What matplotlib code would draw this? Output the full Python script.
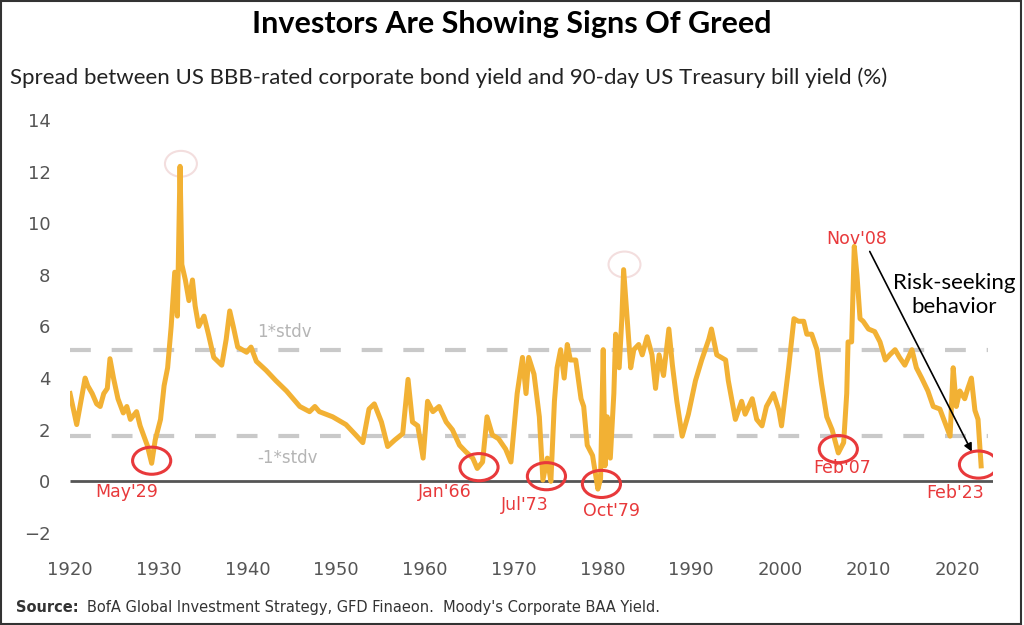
import matplotlib.pyplot as plt
from matplotlib.patches import Ellipse, Rectangle

# spread (%), roughly twice a year plus the turning points
years = [1920.0, 1920.75, 1921.7, 1922.0, 1922.5, 1923.0, 1923.4, 1923.8, 1924.2, 1924.5,
         1924.9, 1925.4, 1926.0, 1926.4, 1926.8, 1927.5, 1927.9, 1928.7, 1929.2, 1929.6,
         1930.2, 1930.6, 1931.0, 1931.4, 1931.8, 1932.1, 1932.4, 1932.6, 1933.0, 1933.4,
         1933.8, 1934.1, 1934.5, 1935.1, 1935.6, 1936.2, 1937.1, 1937.6, 1938.0, 1938.4,
         1938.9, 1939.9, 1940.4, 1941.0, 1942.1, 1943.2, 1944.4, 1945.9, 1947.0, 1947.6,
         1948.1, 1949.6, 1951.1, 1952.2, 1953.0, 1953.7, 1954.3, 1955.1, 1955.8, 1956.6,
         1957.5, 1958.1, 1958.6, 1959.2, 1959.8, 1960.3, 1960.9, 1961.6, 1962.4, 1963.1,
         1963.9, 1964.6, 1965.4, 1965.9, 1966.5, 1967.0, 1967.6, 1968.3, 1969.1, 1969.7,
         1970.4, 1971.0, 1971.4, 1971.7, 1972.3, 1972.9, 1973.3, 1973.8, 1974.2, 1974.6,
         1974.9, 1975.3, 1975.7, 1976.05, 1976.4, 1977.0, 1977.6, 1977.9, 1978.3, 1978.9,
         1979.5, 1979.8, 1980.1, 1980.3, 1980.55, 1980.9, 1981.3, 1981.5, 1981.9, 1982.2,
         1982.4, 1982.8, 1983.2, 1983.55, 1984.1, 1984.5, 1985.05, 1985.6, 1986.0, 1986.4,
         1986.9, 1987.5, 1987.9, 1988.4, 1989.0, 1989.7, 1990.5, 1991.2, 1992.0, 1992.3,
         1992.9, 1993.9, 1994.2, 1995.0, 1995.7, 1996.1, 1996.9, 1997.4, 1998.0, 1998.5,
         1999.3, 1999.9, 2000.2, 2001.0, 2001.6, 2002.1, 2002.7, 2003.05, 2003.6, 2004.2,
         2004.7, 2005.3, 2005.9, 2006.6, 2007.2, 2007.55, 2007.7, 2008.1, 2008.4, 2008.7,
         2009.05, 2009.4, 2010.0, 2010.7, 2011.3, 2011.9, 2012.4, 2013.0, 2013.5, 2014.1,
         2014.9, 2015.4, 2016.0, 2016.7, 2017.3, 2018.05, 2018.6, 2019.2, 2019.55, 2019.9,
         2020.3, 2020.85, 2021.2, 2021.6, 2022.0, 2022.35, 2022.7]
spread = [3.4, 2.2, 4.0, 3.7, 3.4, 3.0, 2.9, 3.4, 3.6, 4.75,
          4.0, 3.2, 2.65, 2.9, 2.4, 2.7, 2.15, 1.4, 0.7, 1.6,
          2.4, 3.7, 4.4, 6.0, 8.1, 6.4, 12.2, 8.4, 7.8, 7.0,
          7.8, 6.8, 6.0, 6.4, 5.7, 4.8, 4.5, 5.5, 6.6, 6.0,
          5.2, 5.0, 5.2, 4.65, 4.3, 3.9, 3.5, 2.9, 2.7, 2.9,
          2.7, 2.5, 2.2, 1.8, 1.5, 2.8, 3.0, 2.3, 1.35, 1.6,
          1.85, 3.95, 2.3, 2.15, 0.9, 3.1, 2.7, 2.9, 2.3, 2.0,
          1.4, 1.15, 0.9, 0.5, 0.75, 2.5, 1.8, 1.65, 1.25, 0.75,
          3.4, 4.8, 3.4, 4.8, 4.15, 2.5, 0.05, 0.9, 0.0, 3.1,
          4.4, 5.1, 4.0, 5.3, 4.7, 4.7, 3.2, 2.9, 1.4, 1.0,
          -0.3, 0.1, 5.1, 0.6, 2.5, 0.9, 3.4, 5.7, 4.4, 6.3,
          8.2, 6.3, 4.4, 5.1, 5.3, 4.9, 5.6, 4.9, 3.6, 4.9,
          4.1, 5.9, 4.5, 3.1, 1.75, 2.6, 3.9, 4.7, 5.5, 5.9,
          4.9, 4.7, 3.9, 2.4, 3.1, 2.6, 3.2, 2.4, 2.15, 2.9,
          3.4, 2.75, 2.15, 4.4, 6.3, 6.2, 6.2, 5.7, 5.7, 5.1,
          3.8, 2.5, 2.0, 1.1, 1.5, 3.4, 5.4, 5.4, 9.1, 8.0,
          6.3, 6.2, 5.9, 5.8, 5.4, 4.7, 4.9, 5.1, 4.8, 4.5,
          5.1, 4.4, 4.0, 3.5, 2.9, 2.8, 2.3, 1.75, 4.4, 2.9,
          3.5, 3.2, 3.6, 4.0, 2.75, 2.4, 0.6]

stdv_hi = 5.1
stdv_lo = 1.75

lows = ["May'29", "Jan'66", "Jul'73", "Oct'79", "Feb'07", "Feb'23"]
low_x = [1929.2, 1966.1, 1973.7, 1979.9, 2006.6, 2022.4]
low_y = [0.8, 0.55, 0.2, -0.1, 1.25, 0.65]
label_x = [1926.4, 1962.2, 1971.2, 1981.0, 2007.0, 2019.8]
label_y = [-0.4, -0.4, -0.9, -1.15, 0.5, -0.45]

red = "#e8393b"
gold = "#f2b134"
narrow = ["Liberation Sans Narrow", "DejaVu Sans"]

fig = plt.figure(figsize=(10.24, 6.25), dpi=100)
ax = fig.add_axes([0.0684, 0.1472, 0.901, 0.661])

ax.plot(years, spread, color=gold, lw=3.6, solid_joinstyle="round", zorder=3)
ax.hlines([stdv_hi, stdv_lo], 1920, 2023.5, colors="#c9c9c9", lw=3,
          linestyles=(0, (5, 5)), zorder=2)
ax.hlines(0, 1920, 2024, colors="#555555", lw=2, zorder=2)

ax.text(1944.2, 5.8, "1*stdv", color="#b5b5b5", fontsize=12, ha="center", va="center")
ax.text(1944.5, 0.9, "-1*stdv", color="#b5b5b5", fontsize=12, ha="center", va="center")

for x, y, lx, ly, lab in zip(low_x, low_y, label_x, label_y, lows):
    ax.add_patch(Ellipse((x, y), 4.3, 1.05, fill=False, ec=red, lw=2.2, zorder=4))
    ax.text(lx, ly, lab, color=red, fontsize=12.5, ha="center", va="center", family=narrow)

# faint rings at the two peaks
for px, py in [(1932.5, 12.3), (1982.5, 8.4)]:
    ax.add_patch(Ellipse((px, py), 3.6, 1.0, fill=False, ec="#f3dede", lw=1.5, zorder=1))

ax.text(2008.7, 9.4, "Nov'08", color=red, fontsize=12.5, ha="center", va="center", family=narrow)
ax.annotate("", xy=(2021.8, 1.05), xytext=(2010.0, 9.0),
            arrowprops=dict(arrowstyle="-|>", color="black", lw=1.2, mutation_scale=12))
ax.text(2019.7, 7.2, "Risk-seeking\nbehavior", fontsize=16, ha="center", va="center",
        family="Lato", linespacing=1.25)

ax.set_xlim(1920, 2024)
ax.set_ylim(-2, 14)
ax.set_xticks(range(1920, 2021, 10))
ax.set_yticks(range(-2, 15, 2))
ax.tick_params(length=0, labelsize=13, colors="#555555")
ax.tick_params(axis="x", pad=20)
ax.tick_params(axis="y", pad=14)
for lbl in ax.get_xticklabels() + ax.get_yticklabels():
    lbl.set_family(narrow)
for s in ax.spines.values():
    s.set_visible(False)

fig.text(0.5, 0.962, "Investors Are Showing Signs Of Greed", ha="center", va="center",
         fontsize=22, fontweight="bold", family="Lato")
fig.text(0.01, 0.875, "Spread between US BBB-rated corporate bond yield and 90-day US Treasury bill yield (%)",
         ha="left", va="center", fontsize=16, family="Lato", color="#222222")
src = fig.text(0.016, 0.028, "Source:", ha="left", va="center", fontsize=10.5, fontweight="bold",
               family=narrow, color="#333333")
ax.annotate("BofA Global Investment Strategy, GFD Finaeon.  Moody's Corporate BAA Yield.",
            xy=(1, 0.5), xycoords=src, xytext=(6, 0), textcoords="offset points",
            ha="left", va="center", fontsize=10.5, family=narrow, color="#333333",
            annotation_clip=False)

fig.add_artist(Rectangle((0.001, 0.002), 0.996, 0.996, transform=fig.transFigure,
                         fill=False, ec="#333333", lw=1.5))

fig.savefig("out.png", dpi=100)
